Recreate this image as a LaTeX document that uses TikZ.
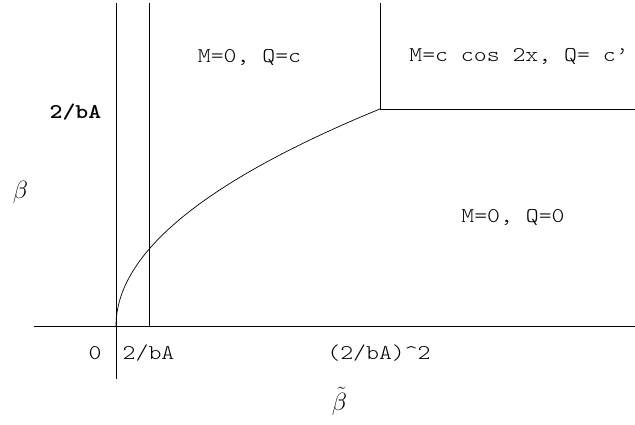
\documentclass[tikz,border=0pt]{standalone}
\usepackage{fontspec}
\setmonofont{lmmonolt10-regular.otf}[BoldFont=lmmonolt10-bold.otf]
\newcommand{\tw}[1]{\scalebox{1.17}[1]{#1}}
\begin{document}
\begin{tikzpicture}[x=1pt,y=-1pt, line width=0.8pt,
  lbl/.style={font=\fontsize{21}{24}\selectfont\ttfamily, anchor=base, inner sep=0pt},
  blbl/.style={font=\fontsize{21}{24}\selectfont\ttfamily\bfseries, anchor=base, inner sep=0pt},
  mlbl/.style={font=\fontsize{24}{28}\selectfont, anchor=base, inner sep=0pt}]
\useasboundingbox (0,0) rectangle (635,424);
% lines
\coordinate (v1t) at (116,3);
\coordinate (v1b) at (116,379);
\coordinate (v2t) at (149,3);
\coordinate (v2b) at (149,326);
\coordinate (hl) at (34,326);
\coordinate (hr) at (635,326);
\coordinate (v3t) at (380,3);
\coordinate (jn) at (380,109);
\coordinate (h2r) at (635,109);
\draw (v1t) -- (v1b);
\draw (v2t) -- (v2b);
\draw (hl) -- (hr);
\draw (v3t) -- (jn) -- (h2r);
\draw[line width=0.7pt] plot[domain=0:16.248, samples=90, variable=\t] ({116+\t*\t},{326-13.36*\t});
% labels
\node[lbl] (r1) at (249.5,62) {\tw{M=0, Q=c}};
\node[lbl] (r2) at (519,61) {\tw{M=c cos 2x, Q= c’}};
\node[lbl] (r3) at (513,222) {\tw{M=0, Q=0}};
\node[blbl] (yb) at (75.5,118) {\tw{2/bA}};
\node[mlbl] (ylab) at (20.5,198.5) {$\beta$};
\node[lbl] (x0) at (95,359) {\tw{0}};
\node[lbl] (x1) at (148.5,359) {\tw{2/bA}};
\node[lbl] (x2) at (379,359) {\tw{(2/bA)\textasciicircum 2}};
\node[mlbl] (xlab) at (339.5,410.5) {$\tilde\beta$};
\end{tikzpicture}
\end{document}
